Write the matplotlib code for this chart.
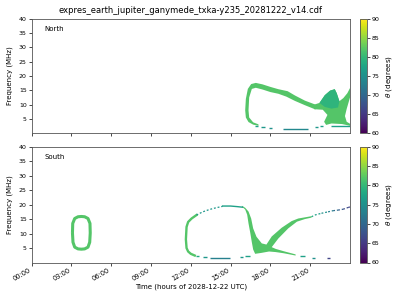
import matplotlib
matplotlib.use("Agg")
import matplotlib.pyplot as plt
import numpy as np

# ---- data (time in hours, frequency in MHz, theta in degrees) ----
title = "expres_earth_jupiter_ganymede_txka-y235_20281222_v14.cdf"
hour_ticks = [0, 3, 6, 9, 12, 15, 18, 21]
hour_labels = ["00:00", "03:00", "06:00", "09:00", "12:00", "15:00", "18:00", "21:00"]
freq_ticks = [5, 10, 15, 20, 25, 30, 35, 40]
theta_ticks = [60, 65, 70, 75, 80, 85, 90]

# North: arc (outline polygon)
north_arc_t = [17.1, 16.7, 16.35, 16.15, 16.1, 16.15, 16.3, 16.55, 16.9, 17.4, 18.0, 18.6, 19.3, 19.85, 20.6, 21.4,
               21.4, 20.6, 19.85, 19.2, 18.6, 18.0, 17.4, 16.9, 16.6, 16.4, 16.35, 16.4, 16.7, 17.1]
north_arc_f = [2.6, 3.0, 3.9, 5.5, 8.0, 12.0, 15.5, 17.2, 17.6, 17.1, 16.2, 15.4, 14.7, 13.2, 11.4, 10.0,
               8.3, 9.8, 11.3, 12.8, 13.8, 14.4, 15.3, 15.9, 15.5, 12.5, 8.0, 5.5, 3.8, 3.1]
north_arc_theta = 82

# North: blob at end of day (whole body, then its bluer upper part)
north_blob_t = [21.3, 21.7, 22.1, 22.5, 22.85, 23.0, 23.2, 23.5, 23.8, 24.0, 24.0, 23.75, 23.62, 23.75, 24.0,
                24.0, 23.4, 22.6, 22.2, 22.05, 22.3, 21.95, 21.3]
north_blob_f = [10.0, 10.6, 13.3, 14.9, 15.4, 14.0, 11.2, 12.3, 14.0, 15.8, 12.5, 8.5, 6.0, 4.0, 3.3,
                2.6, 3.2, 3.4, 2.9, 4.0, 6.4, 8.2, 8.4]
north_blob_theta = 82
north_upper_t = [21.7, 22.1, 22.5, 22.85, 23.0, 23.2, 23.1, 22.6, 22.1]
north_upper_f = [10.6, 13.3, 14.9, 15.4, 14.0, 11.2, 9.0, 8.6, 9.2]
north_upper_theta = 79.5

# North: low-frequency dashes
north_dash_t0 = [16.85, 17.3, 17.9, 18.95, 21.35, 21.75, 22.6]
north_dash_t1 = [17.1, 17.6, 18.1, 20.85, 21.6, 22.0, 24.0]
north_dash_f = [2.5, 2.1, 1.8, 1.6, 2.0, 2.4, 2.5]
north_dash_theta = [77, 76, 75, 74, 76, 77, 77]

# South: small oval around 03:00-04:30
south_oval_t = [3.08, 3.1, 3.25, 3.5, 3.75, 4.0, 4.25, 4.4, 4.42, 4.38, 4.25, 4.0, 3.75, 3.5, 3.25, 3.12, 3.08]
south_oval_f = [10.2, 13.5, 15.2, 15.8, 15.9, 15.8, 15.2, 13.5, 10.2, 7.0, 5.3, 4.7, 4.6, 4.7, 5.3, 7.0, 10.2]
south_oval_theta = 82

# South: left side of the big loop
south_left_t = [12.43, 12.06, 11.8, 11.68, 11.63, 11.68, 11.8, 12.0, 12.3]
south_left_f = [16.4, 15.2, 14.0, 12.3, 8.0, 5.0, 3.8, 3.0, 2.4]
south_left_theta = 82

# South: dotted top of the loop, then solid part
south_top_t = [12.43, 12.9, 13.4, 13.9, 14.4]
south_top_f = [16.4, 17.5, 18.3, 18.9, 19.4]
south_flat_t = [14.4, 15.0, 15.5, 15.9]
south_flat_f = [19.5, 19.5, 19.3, 19.1]
south_top_theta = 76

# South: X-shaped emission
south_x_t = [15.85, 16.1, 16.25, 16.35, 16.48, 16.6, 16.7, 16.85, 17.3, 17.9, 18.4, 19.0, 19.9, 19.9, 19.0, 18.4,
             18.1, 18.6, 19.35, 20.0, 20.6, 21.1, 21.1, 20.6, 20.1, 19.6, 18.85, 18.1, 17.7, 17.35, 16.95, 16.7,
             16.55, 16.35, 16.1, 15.85]
south_x_f = [19.3, 18.3, 16.5, 13.5, 10.3, 7.0, 4.5, 3.0, 3.3, 3.8, 3.6, 3.2, 2.4, 2.8, 3.9, 4.7,
             5.3, 8.3, 11.8, 14.1, 15.0, 15.5, 16.0, 15.6, 15.2, 14.3, 12.0, 9.0, 6.2, 6.6, 8.9, 11.8,
             15.2, 17.6, 18.9, 19.6]
south_x_theta = 82

# South: dashed tail up to midnight
south_tail_t = [21.1, 21.35, 21.85, 22.35, 22.73, 23.1, 23.48, 23.86, 24.0]
south_tail_f = [15.8, 16.4, 17.0, 17.5, 17.9, 18.1, 18.4, 19.0, 19.2]
south_tail_theta = [78, 77, 75, 73, 71, 69, 67, 66]

# South: low-frequency dashes
south_dash_t0 = [12.4, 12.93, 13.45, 15.7, 16.1, 20.2, 21.1, 22.25]
south_dash_t1 = [12.6, 13.19, 14.94, 15.9, 16.45, 20.6, 21.35, 22.5]
south_dash_f = [2.2, 1.9, 1.5, 2.0, 2.3, 2.1, 1.7, 1.4]
south_dash_theta = [78, 76, 73, 76, 77, 77, 75, 66]

cmap = plt.get_cmap("viridis")
norm = matplotlib.colors.Normalize(vmin=60, vmax=90)

fig = plt.figure(figsize=(4, 3), dpi=100)
ax_n = fig.add_axes([0.079, 0.556, 0.796, 0.381])
ax_s = fig.add_axes([0.079, 0.125, 0.796, 0.386], sharex=ax_n)
cax_n = fig.add_axes([0.9, 0.556, 0.017, 0.381])
cax_s = fig.add_axes([0.9, 0.125, 0.017, 0.386])

# north
ax_n.fill(north_arc_t, north_arc_f, color=cmap(norm(north_arc_theta)), lw=0)
ax_n.fill(north_blob_t, north_blob_f, color=cmap(norm(north_blob_theta)), lw=0)
ax_n.fill(north_upper_t, north_upper_f, color=cmap(norm(north_upper_theta)), lw=0)
ax_n.hlines(north_dash_f, north_dash_t0, north_dash_t1,
            colors=[cmap(norm(v)) for v in north_dash_theta], lw=1.0)

# south
ax_s.plot(south_oval_t, south_oval_f, color=cmap(norm(south_oval_theta)), lw=2.2, solid_capstyle="butt")
ax_s.plot(south_left_t, south_left_f, color=cmap(norm(south_left_theta)), lw=1.7)
ax_s.plot(south_top_t, south_top_f, color=cmap(norm(south_top_theta)), lw=0.9, dashes=(1.5, 1.5))
ax_s.plot(south_flat_t, south_flat_f, color=cmap(norm(77)), lw=1.0)
ax_s.fill(south_x_t, south_x_f, color=cmap(norm(south_x_theta)), lw=0)
for i in range(len(south_tail_theta)):
    ax_s.plot(south_tail_t[i:i + 2], south_tail_f[i:i + 2], color=cmap(norm(south_tail_theta[i])),
              lw=0.9, dashes=(1.5, 1.5))
ax_s.hlines(south_dash_f, south_dash_t0, south_dash_t1,
            colors=[cmap(norm(v)) for v in south_dash_theta], lw=1.0)

for ax, name in [(ax_n, "North"), (ax_s, "South")]:
    ax.set_xlim(0, 24)
    ax.set_ylim(0, 40)
    ax.set_yticks(freq_ticks)
    ax.set_ylabel("Frequency (MHz)", fontsize=5)
    ax.text(0.04, 0.91, name, transform=ax.transAxes, fontsize=5, va="center")
    ax.tick_params(axis="y", labelsize=4.5, length=2, width=0.5, pad=1.5)
    ax.tick_params(axis="x", labelsize=4.8, length=2, width=0.5, pad=1.5)
    for s in ax.spines.values():
        s.set_linewidth(0.6)
        s.set_color("#555555")

ax_s.set_xticks(hour_ticks)
ax_s.set_xticklabels(hour_labels, rotation=30, ha="right")
plt.setp(ax_n.get_xticklabels(), visible=False)
ax_s.set_xlabel("Time (hours of 2028-12-22 UTC)", fontsize=5, labelpad=1)
ax_n.set_title(title, fontsize=6, pad=4)

sm = matplotlib.cm.ScalarMappable(norm=norm, cmap=cmap)
for cax in (cax_n, cax_s):
    cb = fig.colorbar(sm, cax=cax, ticks=theta_ticks)
    cb.set_label(r"$\theta$ (degrees)", fontsize=5.2, labelpad=3)
    cb.ax.tick_params(labelsize=4.5, length=2, width=0.5, pad=1.5)
    cb.outline.set_linewidth(0.6)
    cb.outline.set_edgecolor("#555555")

fig.savefig("out.png", dpi=100)
